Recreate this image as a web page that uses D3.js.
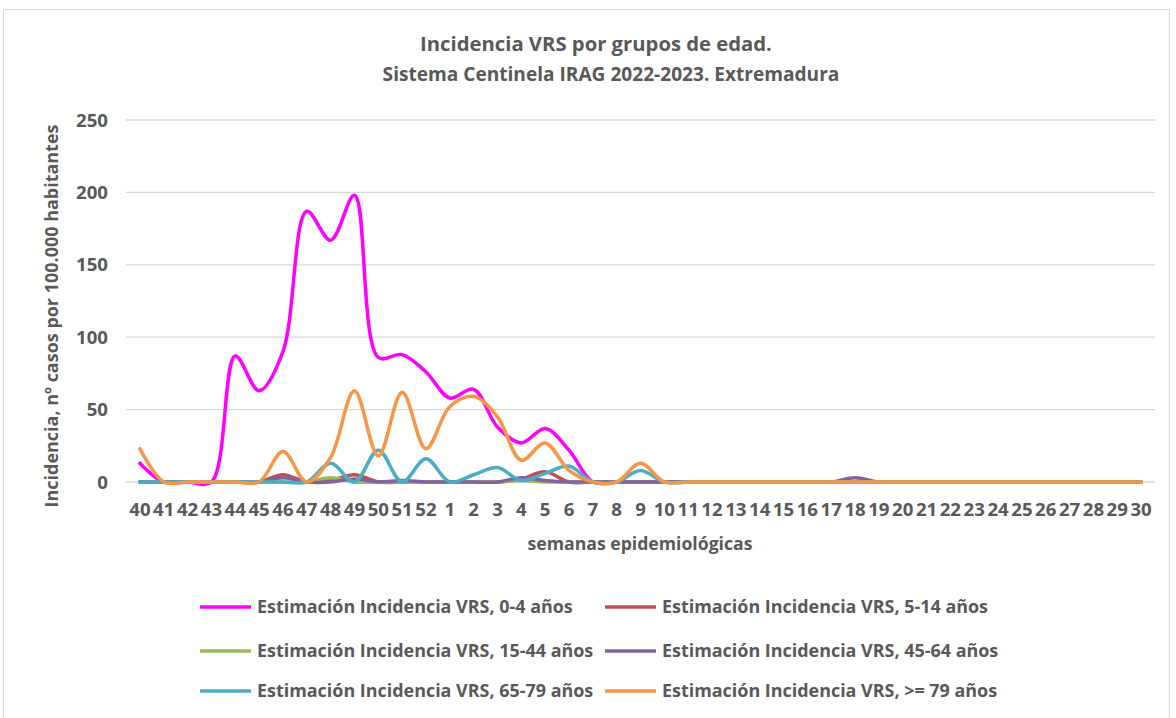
<!DOCTYPE html>
<html><head><meta charset="utf-8">
<script src="https://cdn.jsdelivr.net/npm/d3@7"></script>
<style>body{margin:0;background:#fff;} svg{display:block;font-family:"Open Sans", Lato, sans-serif;}</style>
</head><body>
<svg id="c" width="1176" height="718"></svg>
<script>
const weeks = [40,41,42,43,44,45,46,47,48,49,50,51,52,1,2,3,4,5,6,7,8,9,10,11,12,13,14,15,16,17,18,19,20,21,22,23,24,25,26,27,28,29,30];
const yTicks = [0,50,100,150,200,250];
const seriesNames = ["Estimación Incidencia VRS, 0-4 años","Estimación Incidencia VRS, 5-14 años","Estimación Incidencia VRS, 15-44 años","Estimación Incidencia VRS, 45-64 años","Estimación Incidencia VRS, 65-79 años","Estimación Incidencia VRS, >= 79 años"];
const s0_4   = [13,0,0,0,87,63,90,187,167,198,86,88,76,58,64,38,27,37,22,0,0,0,0,0,0,0,0,0,0,0,0,0,0,0,0,0,0,0,0,0,0,0,0];
const s5_14  = [0,0,0,0,0,0,5,0,1,5,0,0,0,0,0,0,2,7,0,0,0,0,0,0,0,0,0,0,0,0,0,0,0,0,0,0,0,0,0,0,0,0,0];
const s15_44 = [0,0,0,0,0,0,0,0,3,0,0,0,0,0,0,0,1,0,0,0,0,0,0,0,0,0,0,0,0,0,0,0,0,0,0,0,0,0,0,0,0,0,0];
const s45_64 = [0,0,0,0,0,0,3,0,0,2,0,1,0,0,0,0,3,1,0,0,0,0,0,0,0,0,0,0,0,0,3,0,0,0,0,0,0,0,0,0,0,0,0];
const s65_79 = [0,0,0,0,0,0,0,0,13,0,22,0,16,0,5,10,1,6,11,0,0,8,0,0,0,0,0,0,0,0,0,0,0,0,0,0,0,0,0,0,0,0,0];
const s79    = [23,0,0,0,0,0,21,0,17,63,18,62,23,52,59,45,15,27,8,0,0,13,0,0,0,0,0,0,0,0,0,0,0,0,0,0,0,0,0,0,0,0,0];
const colors = ["#FF00FF","#C0504D","#9BBB59","#8064A2","#4BACC6","#F79646"];
const allSeries = [s0_4, s5_14, s15_44, s45_64, s65_79, s79];

const svg = d3.select("#c");
const txt = "#595959";
function fit(sel, target){
  const w = sel.node().getComputedTextLength();
  const fs = +sel.attr("font-size");
  const nfs = fs*target/w;
  sel.attr("font-size", nfs);
  return nfs;
}
svg.append("rect").attr("x",3.5).attr("y",9.5).attr("width",1166).attr("height",730)
  .attr("fill","#fff").attr("stroke","#d9d9d9");

const x = d3.scaleBand().domain(weeks.map(String)).range([128,1153]);
const y = d3.scaleLinear().domain([0,250]).range([482,120]);
const cx = w => x(String(w)) + x.bandwidth()/2;

// gridlines
svg.append("g").selectAll("line").data(yTicks).join("line")
  .attr("x1",126).attr("x2",1155).attr("y1",d=>y(d)).attr("y2",d=>y(d))
  .attr("stroke","#d9d9d9").attr("stroke-width",1.3);

// y tick labels
const yt = svg.append("g").selectAll("text").data(yTicks).join("text")
  .attr("x",108).attr("y",d=>y(d)).attr("dy","0.35em").attr("text-anchor","end")
  .attr("font-size",16).attr("font-weight","bold").attr("fill",txt).text(d=>d);
const tickFs = fit(d3.select(yt.nodes()[5]), 32);
yt.attr("font-size", tickFs);

// x tick labels
svg.append("g").selectAll("text").data(weeks).join("text")
  .attr("x",d=>cx(d)).attr("y",509).attr("dy","0.35em").attr("text-anchor","middle")
  .attr("font-size",tickFs).attr("font-weight","bold").attr("fill",txt).text(d=>d);

// lines
const line = d3.line().x((d,i)=>cx(weeks[i])).y(d=>y(d)).curve(d3.curveCatmullRom.alpha(0.5));
allSeries.forEach((s,k)=>{
  svg.append("path").datum(s).attr("d",line).attr("fill","none")
    .attr("stroke",colors[k]).attr("stroke-width",3.5).attr("stroke-linecap","round").attr("stroke-linejoin","round");
});

// titles
fit(svg.append("text").attr("x",596).attr("y",44).attr("dy","0.35em").attr("text-anchor","middle")
  .attr("font-size",16).attr("font-weight","bold").attr("fill",txt).text("Incidencia VRS por grupos de edad."), 352);
fit(svg.append("text").attr("x",611).attr("y",74).attr("dy","0.35em").attr("text-anchor","middle")
  .attr("font-size",16).attr("font-weight","bold").attr("fill",txt).text("Sistema Centinela IRAG 2022-2023. Extremadura"), 457);
fit(svg.append("text").attr("transform","translate(52,316) rotate(-90)").attr("dy","0.35em").attr("text-anchor","middle")
  .attr("font-size",15).attr("font-weight","bold").attr("fill",txt).text("Incidencia, nº casos por 100.000 habitantes"), 383);
fit(svg.append("text").attr("x",640).attr("y",544).attr("dy","0.35em").attr("text-anchor","middle")
  .attr("font-size",15).attr("font-weight","bold").attr("fill",txt).text("semanas epidemiológicas"), 225);

// legend
const legPos = [[200,607],[605,607],[200,651],[605,651],[200,691],[605,691]];
const legTexts = [];
seriesNames.forEach((n,k)=>{
  const [lx,ly] = legPos[k];
  const g = svg.append("g").attr("transform",`translate(${lx},${ly})`);
  g.append("line").attr("x1",0).attr("x2",51).attr("y1",0).attr("y2",0).attr("stroke",colors[k]).attr("stroke-width",3.5);
  legTexts.push(g.append("text").attr("x",57).attr("y",0).attr("dy","0.35em").attr("font-size",15).attr("font-weight","bold").attr("fill",txt).text(n));
});
const legFs = fit(legTexts[0], 316);
legTexts.forEach(t=>t.attr("font-size",legFs));
</script>
</body></html>
